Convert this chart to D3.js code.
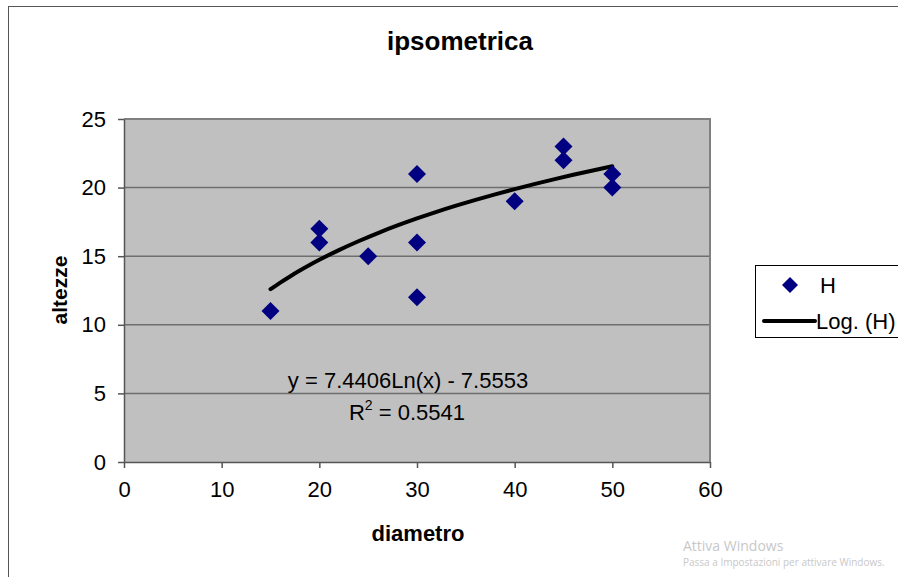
<!DOCTYPE html>
<html><head><meta charset="utf-8">
<script src="https://cdn.jsdelivr.net/npm/d3@7"></script>
<style>body{margin:0;background:#fff}svg{display:block;font-family:Arial,"Liberation Sans",sans-serif}</style>
</head><body>
<svg id="c" width="898" height="577"></svg>
<script>
const diametro = [15,20,20,25,30,30,30,40,45,45,50,50];
const altezze  = [11,17,16,15,21,16,12,19,23,22,21,20];
const xTicks = [0,10,20,30,40,50,60];
const yTicks = [0,5,10,15,20,25];
const trendA = 7.4406, trendB = -7.5553;
const trendXs = [15,16,17,18,19,20,22,24,26,28,30,32,34,36,38,40,42,44,46,48,50];

const svg = d3.select("#c");
svg.append("rect").attr("x",8.5).attr("y",6.5).attr("width",900).attr("height",580)
  .attr("fill","#fff").attr("stroke","#555").attr("stroke-width",1);

const L=124,R=710,T=119,B=462;
const x = d3.scaleLinear().domain([0,60]).range([L,R]);
const y = d3.scaleLinear().domain([0,25]).range([B,T]);

svg.append("rect").attr("x",L).attr("y",T).attr("width",R-L).attr("height",B-T).attr("fill","#c0c0c0");
svg.append("g").selectAll("line").data(yTicks.filter(d=>d>0&&d<25)).join("line")
  .attr("x1",L).attr("x2",R).attr("y1",d=>y(d)).attr("y2",d=>y(d)).attr("stroke","#6e6e6e").attr("stroke-width",1.5);
svg.append("path").attr("d",`M${L},${T}H${R}V${B}`).attr("fill","none").attr("stroke","#808080").attr("stroke-width",2);

const ax = svg.append("g").attr("transform",`translate(0,${B})`)
  .call(d3.axisBottom(x).tickValues(xTicks).tickSizeOuter(0).tickSizeInner(6).tickPadding(13));
const ay = svg.append("g").attr("transform",`translate(${L},0)`)
  .call(d3.axisLeft(y).tickValues(yTicks).tickSizeOuter(0).tickSizeInner(6).tickPadding(12));
[ax,ay].forEach(g=>{
  g.attr("font-size",null).attr("font-family",null);
  g.selectAll("path,line").attr("stroke","#555").attr("stroke-width",1.5);
  g.selectAll("text").style("font-size","22px").attr("fill","#000");
});

const line = d3.line().x(d=>x(d)).y(d=>y(trendA*Math.log(d)+trendB)).curve(d3.curveMonotoneX);
svg.append("path").attr("d",line(trendXs)).attr("fill","none").attr("stroke","#000").attr("stroke-width",4).attr("stroke-linecap","round");

const diamond = "M0,-9L9,0L0,9L-9,0Z";
svg.append("g").selectAll("path").data(diametro.map((d,i)=>[d,altezze[i]])).join("path")
  .attr("d",diamond).attr("transform",d=>`translate(${x(d[0])},${y(d[1])})`)
  .attr("fill","#000080");

svg.append("text").attr("x",408).attr("y",388).attr("text-anchor","middle").style("font-size","22px").text("y = 7.4406Ln(x) - 7.5553");
const r2 = svg.append("text").attr("x",407).attr("y",420).attr("text-anchor","middle").style("font-size","22px");
r2.append("tspan").text("R");
r2.append("tspan").style("font-size","14px").attr("dy",-10).text("2");
r2.append("tspan").attr("dy",10).text(" = 0.5541");

svg.append("text").attr("x",460).attr("y",50).attr("text-anchor","middle").style("font-size","26px").attr("font-weight","bold").text("ipsometrica");
svg.append("text").attr("x",418).attr("y",541).attr("text-anchor","middle").style("font-size","22px").attr("font-weight","bold").text("diametro");
svg.append("text").attr("transform","translate(67,290) rotate(-90)").attr("text-anchor","middle").style("font-size","21px").attr("font-weight","bold").text("altezze");

svg.append("rect").attr("x",755.5).attr("y",265.5).attr("width",160).attr("height",72).attr("fill","#fff").attr("stroke","#000").attr("stroke-width",1);
svg.append("path").attr("d","M0,-8L8,0L0,8L-8,0Z").attr("transform","translate(790,285)").attr("fill","#000080");
svg.append("text").attr("x",820).attr("y",293).style("font-size","22px").text("H");
svg.append("line").attr("x1",764).attr("x2",815).attr("y1",321).attr("y2",321).attr("stroke","#000").attr("stroke-width",4).attr("stroke-linecap","round");
svg.append("text").attr("x",816).attr("y",329).style("font-size","22px").text("Log. (H)");

svg.append("text").attr("x",683).attr("y",551).style("font-size","14px").attr("fill","#c8c8c8").attr("font-family","Segoe UI, Open Sans, sans-serif").text("Attiva Windows");
svg.append("text").attr("x",683).attr("y",566).style("font-size","10px").attr("fill","#c8c8c8").attr("font-family","Segoe UI, Open Sans, sans-serif").text("Passa a Impostazioni per attivare Windows.");
</script>
</body></html>
